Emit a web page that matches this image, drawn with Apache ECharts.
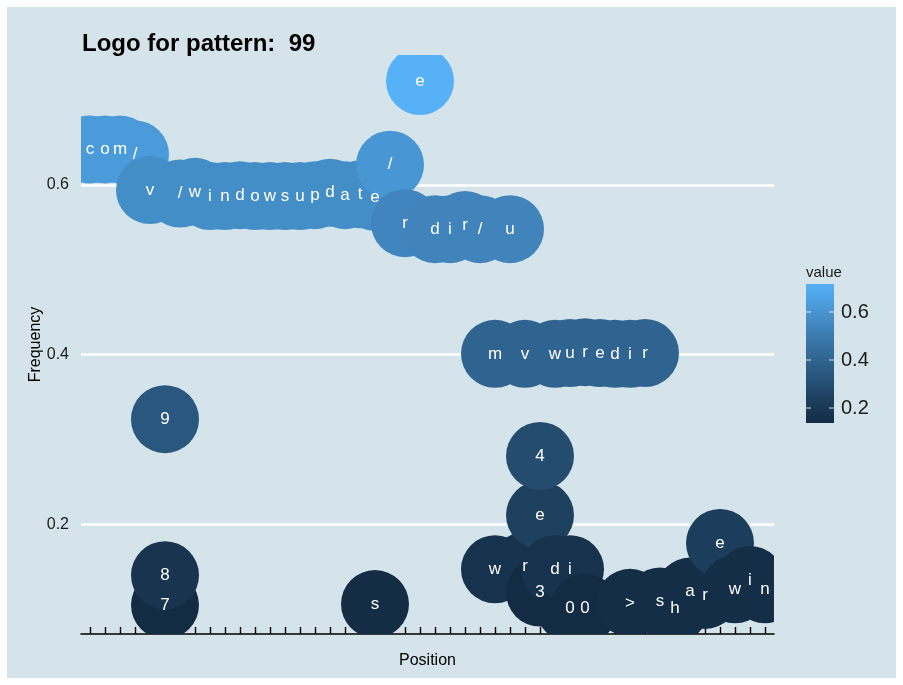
<!DOCTYPE html>
<html><head><meta charset="utf-8">
<script src="https://cdn.jsdelivr.net/npm/echarts@6/dist/echarts.min.js"></script>
<style>
html,body{margin:0;padding:0;background:#fff;}
#bg{position:absolute;left:7px;top:7px;width:889px;height:671px;background:#d5e4eb;}
#chart{position:absolute;left:0;top:0;width:903px;height:685px;}
</style>
</head><body><div id="bg"></div><div id="chart"></div>
<script>
// ---- data ----
const positions = [1,2,3,4,5,6,6,6,7,8,9,10,11,12,13,14,15,16,17,18,19,20,20,21,22,23,24,25,26,27,28,28,29,30,30,31,31,31,32,32,33,33,33,34,34,35,36,37,37,38,39,40,41,42,43,44,45,46];
const letters   = ['c','o','m','/','v','7','8','9','/','w','i','n','d','o','w','s','u','p','d','a','t','s','e','/','r','e','d','i','r','/','w','m','u','r','v','3','e','4','d','w','0','i','u','0','r','e','d','>','i','r','s','h','a','r','e','w','i','n'];
const frequencies = [0.642,0.642,0.642,0.636,0.594,0.105,0.140,0.324,0.590,0.592,0.587,0.587,0.588,0.587,0.587,0.587,0.587,0.588,0.591,0.588,0.589,0.106,0.586,0.624,0.555,0.7226,0.548,0.548,0.553,0.548,0.147,0.401,0.548,0.151,0.401,0.1195,0.211,0.2806,0.147,0.401,0.1015,0.147,0.402,0.1015,0.403,0.402,0.401,0.1074,0.401,0.402,0.109,0.101,0.1207,0.1168,0.178,0.1235,0.1345,0.1235];
const values = [0.63,0.63,0.63,0.63,0.575,0.14,0.18,0.34,0.575,0.575,0.575,0.575,0.575,0.575,0.575,0.575,0.575,0.575,0.575,0.575,0.575,0.145,0.575,0.61,0.54,0.7167,0.535,0.535,0.535,0.535,0.17,0.40,0.535,0.17,0.40,0.14,0.235,0.29,0.17,0.40,0.14,0.17,0.40,0.14,0.40,0.40,0.40,0.15,0.40,0.40,0.15,0.15,0.15,0.15,0.22,0.15,0.15,0.15];
const xTicks = [1,2,3,4,5,6,7,8,9,10,11,12,13,14,15,16,17,18,19,20,21,22,23,24,25,26,27,28,29,30,31,32,33,34,35,36,37,38,39,40,41,42,43,44,45,46];
const yTicks = [0.2, 0.4, 0.6];
const legendTicks = [0.2, 0.4, 0.6];
const valueRange = [0.1375, 0.7167];
const xRange = [0.4, 46.6];
const yRange = [0.0707, 0.7533];

const gradientColors = ['#132B43', '#234A6D', '#336A98', '#448DC7', '#56B1F7'];
const FONT = '"Liberation Sans", Arial, sans-serif';

const points = positions.map((p, i) => [p, frequencies[i], values[i]]);

const chart = echarts.init(document.getElementById('chart'));

// legend (colour bar) geometry
const barX = 806, barY = 284, barW = 28, barH = 139;
const legendY = v => barY + (valueRange[1] - v) / (valueRange[1] - valueRange[0]) * barH;
const legendGraphics = [
  {type: 'text', x: 806, y: 273, style: {text: 'value', font: '15px ' + FONT, fill: '#1a1a1a', verticalAlign: 'middle', align: 'left'}},
  {type: 'rect', shape: {x: barX, y: barY, width: barW, height: barH},
   style: {fill: new echarts.graphic.LinearGradient(0, 0, 0, 1,
     gradientColors.slice().reverse().map((c, i, a) => ({offset: i / (a.length - 1), color: c})))}}
];
legendTicks.forEach(v => {
  const y = legendY(v);
  legendGraphics.push({type: 'line', shape: {x1: barX, y1: y, x2: barX + 5, y2: y}, style: {stroke: 'rgba(255,255,255,0.8)', lineWidth: 1}});
  legendGraphics.push({type: 'line', shape: {x1: barX + barW - 5, y1: y, x2: barX + barW, y2: y}, style: {stroke: 'rgba(255,255,255,0.8)', lineWidth: 1}});
  legendGraphics.push({type: 'text', x: 841, y: y, style: {text: v.toFixed(1), font: '20px ' + FONT, fill: '#1a1a1a', verticalAlign: 'middle', align: 'left'}});
});

chart.setOption({
  animation: false,
  title: {
    text: 'Logo for pattern:  99', left: 82, top: 32, padding: 0,
    textStyle: {fontFamily: FONT, fontSize: 24, fontWeight: 'bold', color: '#000'}
  },
  grid: {left: 81, right: 129, top: 55, bottom: 51},
  xAxis: {
    type: 'value', min: xRange[0], max: xRange[1],
    name: 'Position', nameLocation: 'middle', nameGap: 19, nameMoveOverlap: false,
    nameTextStyle: {fontFamily: FONT, fontSize: 16, color: '#000'},
    axisLine: {show: true, onZero: false, lineStyle: {color: '#000', width: 1.5}},
    axisTick: {show: true, inside: true, length: 7, customValues: xTicks, lineStyle: {color: '#000', width: 1.4}},
    axisLabel: {show: false},
    splitLine: {show: false}
  },
  yAxis: {
    type: 'value', min: yRange[0], max: yRange[1],
    name: 'Frequency', nameLocation: 'middle', nameGap: 37, nameMoveOverlap: false,
    nameTextStyle: {fontFamily: FONT, fontSize: 16, color: '#000'},
    axisLine: {show: false},
    axisTick: {show: false, customValues: yTicks},
    axisLabel: {show: true, customValues: yTicks, margin: 12, fontFamily: FONT, fontSize: 16, color: '#1a1a1a',
      formatter: v => v.toFixed(1)},
    splitLine: {show: true, lineStyle: {color: '#ffffff', width: 2.5}}
  },
  visualMap: {
    type: 'continuous', show: false, dimension: 2, seriesIndex: 0,
    min: valueRange[0], max: valueRange[1],
    inRange: {color: gradientColors}
  },
  graphic: legendGraphics,
  series: [
    {
      type: 'custom', clip: true, data: points, encode: {x: 0, y: 1},
      renderItem: (params, api) => {
        const c = api.coord([api.value(0), api.value(1)]);
        return {type: 'circle', shape: {cx: c[0], cy: c[1], r: 34}, style: {fill: api.visual('color')}};
      }
    },
    {
      type: 'custom', clip: true, data: points, encode: {x: 0, y: 1}, z: 3,
      renderItem: (params, api) => {
        const c = api.coord([api.value(0), api.value(1)]);
        return {type: 'text', x: c[0], y: c[1],
          style: {text: letters[params.dataIndex], fill: '#ffffff', font: '17px ' + FONT, align: 'center', verticalAlign: 'middle'}};
      }
    }
  ]
});
</script>
</body></html>
